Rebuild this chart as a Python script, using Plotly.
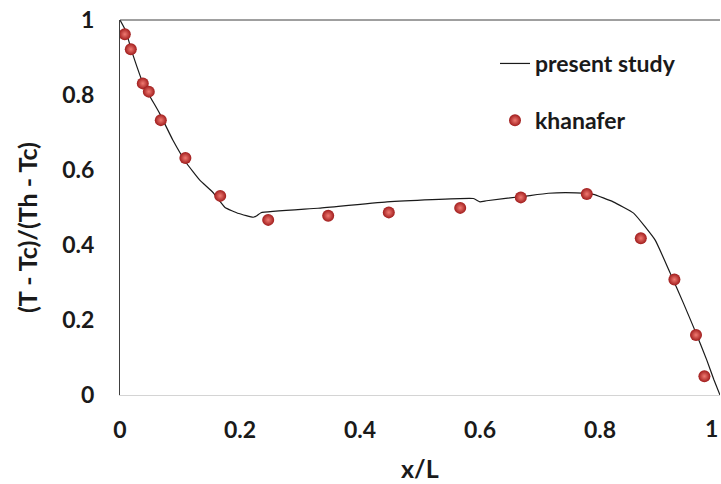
import plotly.graph_objects as go

# Present study: dimensionless temperature profile along x/L
study_x = [0.0, 0.009, 0.022, 0.040, 0.066, 0.088, 0.111, 0.133, 0.155, 0.175,
           0.198, 0.222, 0.228, 0.235, 0.330, 0.445, 0.589, 0.600, 0.611, 0.674,
           0.714, 0.760, 0.789, 0.822, 0.856, 0.892, 0.917, 0.939, 0.958, 0.978,
           0.990, 1.0]
study_y = [1.0, 0.973, 0.905, 0.825, 0.751, 0.680, 0.618, 0.573, 0.540, 0.500,
           0.484, 0.474, 0.478, 0.486, 0.498, 0.515, 0.524, 0.515, 0.518, 0.530,
           0.538, 0.539, 0.535, 0.515, 0.485, 0.413, 0.325, 0.245, 0.173, 0.093,
           0.040, 0.0]

# Khanafer reference data
khan_x = [0.008, 0.018, 0.038, 0.048, 0.068, 0.109, 0.167, 0.247, 0.347, 0.448,
          0.567, 0.668, 0.778, 0.868, 0.924, 0.960, 0.974]
khan_y = [0.962, 0.922, 0.831, 0.809, 0.733, 0.632, 0.531, 0.467, 0.478, 0.487,
          0.499, 0.527, 0.536, 0.418, 0.308, 0.160, 0.050]

x_ticks = [0, 0.2, 0.4, 0.6, 0.8, 1]
y_ticks = [0, 0.2, 0.4, 0.6, 0.8, 1]

FONT = "Lato"
INK = "#1a1a1a"

# the last x label sits on the right edge of the page, so it is drawn
# right-aligned as an annotation instead of as a centred tick label
x_ticktext = [f"{v:g}" for v in x_ticks]
last_x_label = x_ticktext[-1]
x_ticktext[-1] = ""

fig = go.Figure()
fig.add_trace(go.Scatter(
    x=study_x, y=study_y, mode="lines", name="present study",
    line=dict(color=INK, width=1.2, shape="spline", smoothing=0.35),
    legendgroup="a",
))
fig.add_trace(go.Scatter(
    x=khan_x, y=khan_y, mode="markers", name="khanafer",
    marker=dict(size=12, color="#a01c1c",
                gradient=dict(type="radial", color="#f07a72"),
                line=dict(width=0)),
    legendgroup="b",
))

tick_font = dict(family=FONT, size=23, color=INK, weight="bold")

fig.update_layout(
    width=721, height=484,
    margin=dict(l=120, r=1, t=20, b=89),
    paper_bgcolor="white", plot_bgcolor="white",
    font=dict(family=FONT, color=INK),
    showlegend=True,
    legend=dict(
        x=(495 - 120) / 600, y=(395 - 42) / 375, xanchor="left", yanchor="top",
        bgcolor="rgba(0,0,0,0)",
        font=dict(family=FONT, size=23, color=INK, weight="bold"),
        tracegroupgap=24, itemwidth=30,
    ),
    xaxis=dict(
        range=[0, 1], tickvals=x_ticks, ticktext=x_ticktext,
        showgrid=False, zeroline=False, showline=True, linecolor="#d4d4d4",
        linewidth=1, ticks="", ticklabelstandoff=14, ticklabeloverflow="allow",
        automargin=False, tickfont=tick_font,
    ),
    yaxis=dict(
        range=[0, 1], tickvals=y_ticks, ticktext=[f"{v:g}" for v in y_ticks],
        showgrid=False, zeroline=False, showline=True, linecolor="#404040",
        linewidth=1, ticks="", ticklabelstandoff=20, ticklabeloverflow="allow",
        automargin=False, tickfont=tick_font,
    ),
    shapes=[dict(type="line", xref="paper", yref="paper", x0=0, x1=1, y0=1, y1=1,
                 line=dict(color="#404040", width=1))],
    annotations=[
        dict(text=last_x_label, xref="x", yref="paper", x=x_ticks[-1],
             y=(395 - 428) / 375, xanchor="right", yanchor="middle",
             showarrow=False, font=tick_font),
        dict(text="x/L", xref="paper", yref="paper", x=0.5, y=(395 - 468) / 375,
             xanchor="center", yanchor="middle", showarrow=False,
             font=dict(family=FONT, size=25, color=INK, weight="bold")),
        dict(text="(T - Tc)/(Th - Tc)", xref="paper", yref="paper",
             x=(27 - 120) / 600, y=(395 - 228) / 375, textangle=-90,
             xanchor="center", yanchor="middle", showarrow=False,
             font=dict(family=FONT, size=25, color=INK, weight="bold")),
    ],
)

fig.write_html("out.html")
